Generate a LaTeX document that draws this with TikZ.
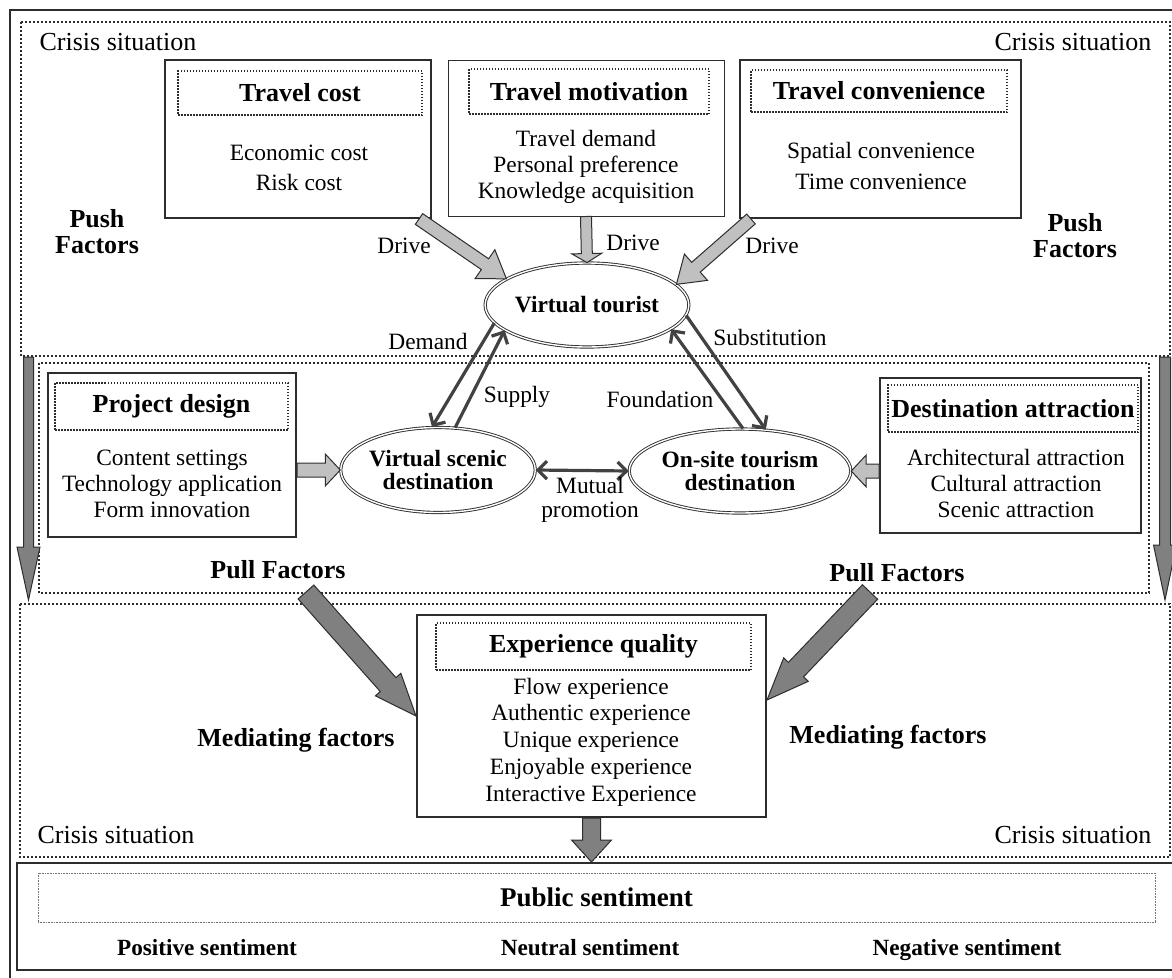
\documentclass[tikz,border=0pt]{standalone}
\usepackage{fontspec}
\setmainfont{Liberation Serif}
\usetikzlibrary{shapes.geometric, arrows.meta, positioning, calc}
\definecolor{ink}{RGB}{45, 45, 45}
\definecolor{lightfill}{RGB}{192, 192, 192}
\definecolor{darkfill}{RGB}{128, 128, 128}

\newcommand{\titlefont}{\fontsize{26}{30}\selectfont\bfseries}
\newcommand{\itemfont}{\fontsize{23.4}{26}\selectfont}
\newcommand{\placefont}{\fontsize{23.4}{23}\selectfont\bfseries}
\newcommand{\factorfont}{\fontsize{26}{26}\selectfont\bfseries}
\newcommand{\crisisfont}{\fontsize{26}{30}\selectfont}

% block arrow: [style]{from}{to}{half shaft}{half head}{head length}
\newcommand{\blockarrow}[6][]{%
  \coordinate (ba-h) at ($(#3)!#6!(#2)$);
  \draw[#1] ($(#2)!#4!90:(#3)$) -- ($(ba-h)!#4!90:(#3)$) -- ($(ba-h)!#5!90:(#3)$) -- (#3)
    -- ($(ba-h)!#5!-90:(#3)$) -- ($(ba-h)!#4!-90:(#3)$) -- ($(#2)!#4!-90:(#3)$) -- cycle;}

\begin{document}
\begin{tikzpicture}[x=1pt, y=-1pt,
    frame/.style={draw=ink, line width=2pt},
    zone/.style={draw=ink, line width=2.2pt, dash pattern=on 2pt off 2pt},
    box/.style={draw=ink, line width=2pt, inner sep=0pt},
    thinbox/.style={draw=ink, line width=1pt, inner sep=0pt},
    titlebox/.style={draw=ink, line width=1.5pt, dash pattern=on 1.5pt off 1.5pt, inner sep=0pt, font=\titlefont},
    items/.style={align=center, font=\itemfont},
    place/.style={ellipse, draw=ink, double=white, double distance=1.4pt, line width=0.9pt, align=center, inner sep=0pt, font=\placefont},
    factor/.style={align=center, font=\factorfont},
    crisis/.style={font=\crisisfont},
    lab/.style={font=\itemfont},
    mood/.style={anchor=base, font={\fontsize{23.2}{26}\selectfont\bfseries}},
    link/.style={draw=ink!90, line width=3.2pt, -{Straight Barb[length=9pt,width=18pt]}},
    lightarrow/.style={fill=lightfill, draw=ink, line width=1pt, line join=miter},
    darkarrow/.style={fill=darkfill, draw=ink, line width=1pt, line join=miter}
  ]
  \useasboundingbox (0,0) rectangle (1172,977);
  \clip (0,0) rectangle (1172,977);
  \draw[frame] (10,10) rectangle (1185,990);

  % crisis zones
  \draw[zone] (21,22) rectangle (1170,356);
  \draw[zone] (39,363) rectangle (1149,593);
  \draw[zone] (20,604) rectangle (1170,857);

  \node[crisis] (crisis1) at (118,42) {Crisis situation};
  \node[crisis] (crisis2) at (1073,42) {Crisis situation};
  \node[crisis] (crisis3) at (116,835) {Crisis situation};
  \node[crisis] (crisis4) at (1073,835) {Crisis situation};

  % push factors
  \node[box, minimum width=266pt, minimum height=158pt] (cost) at (298,139) {};
  \node[titlebox, minimum width=244pt, minimum height=44pt] (costtitle) at (300,93) {Travel cost};
  \node[items, font={\fontsize{23.4}{30.5}\selectfont}] (costitems) at (299,168) {Economic cost\\Risk cost};

  \node[thinbox, minimum width=276pt, minimum height=156pt] (motive) at (586,138) {};
  \node[titlebox, minimum width=240pt, minimum height=45pt] (motivetitle) at (589,91.5) {Travel motivation};
  \node[items] (motiveitems) at (586,167) {Travel demand\\Personal preference\\Knowledge acquisition};

  \node[box, minimum width=281pt, minimum height=158pt] (conv) at (880.5,139) {};
  \node[titlebox, minimum width=256pt, minimum height=42pt] (convtitle) at (879,91) {Travel convenience};
  \node[items, font={\fontsize{23.4}{31}\selectfont}] (convitems) at (881,166) {Spatial convenience\\Time convenience};

  \node[factor] (pushl) at (97,232) {Push\\Factors};
  \node[factor] (pushr) at (1075,236) {Push\\Factors};

  % destinations
  \node[place, minimum width=194pt, minimum height=84pt] (tourist) at (587,305) {Virtual tourist};
  \node[place, minimum width=191pt, minimum height=85pt] (scenic) at (438,470) {Virtual scenic\\destination};
  \node[place, minimum width=190pt, minimum height=84pt] (onsite) at (740,471) {On-site tourism\\destination};

  % pull factors
  \node[box, minimum width=248pt, minimum height=164pt] (project) at (172,455) {};
  \node[titlebox, minimum width=233pt, minimum height=47pt] (projecttitle) at (171.5,406.5) {Project design};
  \node[items] (projectitems) at (172,484) {Content settings\\Technology application\\Form innovation};

  \node[box, minimum width=261pt, minimum height=155pt] (attract) at (1010.5,455.5) {};
  \node[titlebox, minimum width=250pt, minimum height=47pt] (attracttitle) at (1013,408.5) {Destination attraction};
  \node[items] (attractitems) at (1016,483) {Architectural attraction\\Cultural attraction\\Scenic attraction};

  \node[factor] (pulll) at (278,570) {Pull Factors};
  \node[factor] (pullr) at (897,573) {Pull Factors};

  % mediating factors
  \node[box, minimum width=349pt, minimum height=202pt] (exp) at (591.5,716) {};
  \node[titlebox, minimum width=315pt, minimum height=47pt] (exptitle) at (593.5,646.5) {Experience quality};
  \node[items, font={\fontsize{23.4}{26.8}\selectfont}] (expitems) at (591,742) {Flow experience\\Authentic experience\\Unique experience\\Enjoyable experience\\Interactive Experience};

  \node[factor] (medl) at (296,740) {Mediating factors};
  \node[factor] (medr) at (888,737) {Mediating factors};

  % public sentiment
  \node[box, minimum width=1163pt, minimum height=107pt] (public) at (598.5,916.5) {};
  \node[draw=black!55, line width=0.8pt, dash pattern=on 0.8pt off 0.8pt, minimum width=1117pt, minimum height=49pt, inner sep=0pt, font={\fontsize{27}{30}\selectfont\bfseries}] (publictitle) at (596.5,897.5) {Public sentiment};
  \node[mood] (positive) at (207,955) {Positive sentiment};
  \node[mood] (neutral) at (590,955) {Neutral sentiment};
  \node[mood] (negative) at (967,955) {Negative sentiment};

  % block arrows
  \coordinate (d1) at ($(cost.south east)+(-13,0)$);
  \coordinate (d3) at ($(conv.south west)+(12,0)$);
  \coordinate (in1) at (project.east |- scenic.west);
  \coordinate (in2) at (attract.west |- onsite.east);
  \coordinate (m1) at (306,592);
  \coordinate (m2) at (870,592);
  \coordinate (m2end) at ($(exp.east)+(0,-16)$);
  \coordinate (vl1) at (28.5,357);
  \coordinate (vl2) at (28.5,600);
  \coordinate (vr1) at (1165,357);
  \coordinate (vr2) at (1165,600);
  \coordinate (pubtop) at (exp.south |- public.north);

  \blockarrow[lightarrow]{d1}{tourist.162}{6.5pt}{17.5pt}{26pt}
  \blockarrow[lightarrow]{motive.south}{tourist.north}{5.5pt}{15pt}{9pt}
  \blockarrow[lightarrow]{d3}{tourist.13}{6.5pt}{17.5pt}{26pt}
  \blockarrow[lightarrow]{in1}{scenic.west}{7pt}{16pt}{15pt}
  \blockarrow[lightarrow]{in2}{onsite.east}{7pt}{16pt}{15pt}
  \blockarrow[darkarrow]{vl1}{vl2}{5pt}{11.5pt}{53pt}
  \blockarrow[darkarrow]{vr1}{vr2}{5.5pt}{11.5pt}{55pt}
  \blockarrow[darkarrow]{m1}{exp.west}{10.5pt}{17pt}{42pt}
  \blockarrow[darkarrow]{m2}{m2end}{10.5pt}{17pt}{42pt}
  \blockarrow[darkarrow]{exp.south}{pubtop}{9pt}{20pt}{22pt}

  \node[lab] (drive1) at (404,246) {Drive};
  \node[lab] (drive2) at (633,243) {Drive};
  \node[lab] (drive3) at (772,246) {Drive};

  % links between tourist and destinations
  \draw[link] (tourist.191) -- (scenic.98);
  \draw[link] (scenic.68) -- (tourist.197);
  \draw[link] (onsite.86) -- (tourist.344);
  \draw[link] (tourist.354) -- (onsite.58);
  \draw[link, {Straight Barb[length=9pt,width=18pt]}-{Straight Barb[length=9pt,width=18pt]}] (scenic.east) -- (onsite.west);

  \node[lab] (demand) at (428,341) {Demand};
  \node[lab] (supply) at (517,397) {Supply};
  \node[lab] (found) at (660,399) {Foundation};
  \node[lab] (subst) at (770,337) {Substitution};
  \node[lab, align=center, font={\fontsize{23.4}{24}\selectfont}] (mutual) at (590,500) {Mutual\\promotion};
\end{tikzpicture}
\end{document}
